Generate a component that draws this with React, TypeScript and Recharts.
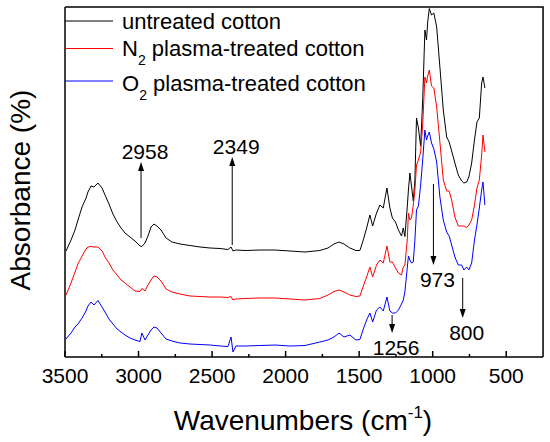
import React from "react";
import { LineChart, Line, XAxis, YAxis, ReferenceLine, Legend } from "recharts";

// FTIR spectra, values (absorbance in arbitrary units)
const wavenumbers = [
  3493, 3459, 3432, 3412, 3384, 3357, 3344, 3323, 3303, 3276,
  3248, 3228, 3201, 3174, 3146, 3119, 3092, 3058, 3024, 2990,
  2977, 2956, 2936, 2915, 2895, 2875, 2847, 2813, 2773, 2718,
  2650, 2582, 2514, 2446, 2392, 2371, 2358, 2338, 2276, 2174,
  2072, 1970, 1868, 1767, 1712, 1671, 1637, 1603, 1563, 1522,
  1495, 1474, 1449, 1427, 1408, 1382, 1359, 1336, 1311, 1291,
  1274, 1253, 1233, 1212, 1200, 1189, 1173, 1165, 1155, 1144,
  1132, 1121, 1110, 1097, 1082, 1068, 1053, 1042, 1034, 1023,
  1008, 992, 973, 951, 928, 905, 888, 871, 849, 826,
  803, 788, 769, 754, 735, 716, 699, 683, 667, 658,
  645,
];

const untreated = [
  106, 117, 127, 137, 150, 159, 165, 171, 170, 174,
  169, 162, 153, 143, 135, 129, 124, 120, 116, 111,
  110.5, 114, 121, 130, 133, 131, 127, 119, 115, 113,
  111.5, 110, 109, 108.5, 107.5, 110, 106, 107, 106.5, 107,
  107, 106, 105, 106.5, 109, 113, 115, 113, 109, 106.5,
  106.5, 116, 129, 142, 131, 144, 152, 149, 169, 149,
  139, 135, 127, 121, 129, 120.5, 150, 167, 184, 171,
  156, 177, 239, 229, 211, 257, 327, 317, 335, 348.5,
  342, 344, 330, 290, 247, 220, 215, 206, 194, 182,
  176, 174, 175, 180, 194, 217, 235, 239, 274, 280,
  269,
];

const n2Treated = [
  62, 74, 85, 93, 101, 108, 110, 110.5, 110, 110,
  106, 100, 94, 87, 82, 77, 74, 70, 66, 65.5,
  68.5, 66, 72, 77, 81, 80, 76, 68, 65, 63,
  61, 60.5, 60, 60, 59.5, 60.5, 57, 58, 58.5, 59,
  59, 58, 57, 58.5, 62, 65.5, 67, 65, 62, 60.5,
  61, 70, 80, 90, 80, 92, 97, 94, 111, 95,
  95, 89, 84, 82, 90, 92, 117, 144, 137, 139,
  152, 167, 192, 197, 205, 232, 280, 274, 281, 287,
  271, 269, 250, 215, 177, 166, 166, 157, 140, 131,
  131, 131, 129.5, 132, 137, 152, 169, 177, 202, 222,
  205,
];

const o2Treated = [
  18, 24, 30, 33, 39, 46, 51, 55, 52, 56.5,
  50, 45, 38, 33, 28, 25, 22, 19, 17, 15.5,
  24, 17, 22, 27, 30, 29, 24, 18, 16, 14,
  13, 12.5, 12, 11, 10.5, 20, 5, 11, 11, 11.5,
  12, 11, 11.5, 15, 17, 20, 24, 20, 22, 17,
  17.5, 27, 37, 44, 35, 47, 50, 46, 60, 46,
  44, 44, 47, 53, 57, 65, 89, 101, 97, 94,
  95, 117, 147, 151, 172, 197, 227, 217, 221, 225,
  214, 208, 195, 160, 137, 125, 121, 112, 100, 92,
  92, 87, 90, 87, 94, 117, 132, 149, 167, 175,
  152,
];

const seriesNames = ["untreated cotton", "N2 plasma-treated cotton", "O2 plasma-treated cotton"];
const seriesColors = ["#000000", "#ff0000", "#0000ff"];

const xTicks = [3500, 3250, 3000, 2750, 2500, 2250, 2000, 1750, 1500, 1250, 1000, 750, 500];
const xDomain = [250, 3500];
const yDomain = [0, 350];

// peak markers: label, wavenumber of the arrow, arrow tail and tip (absorbance units)
const peakLabels = ["2958", "2349", "1256", "973", "800"];
const peakPositions = [2983, 2363, 1276, 995, 796];
const arrowTails = [119, 112, 42, 173, 79];
const arrowTips = [195, 200, 24, 92, 39];

const data = wavenumbers.map((wn, i) => ({
  wn,
  untreated: untreated[i],
  n2: n2Treated[i],
  o2: o2Treated[i],
}));

const WaveTick = (props: any) => {
  const { x, y, payload } = props;
  const major = payload.value % 500 === 0;
  return (
    <g>
      <line x1={x} y1={y} x2={x} y2={y - (major ? 6 : 3)} stroke="#000" strokeWidth={1.5} />
      {major && (
        <text x={x} y={y + 25.5} textAnchor="middle" fontSize={21} fill="#000">
          {payload.value}
        </text>
      )}
    </g>
  );
};

const PeakArrow = (props: any) => {
  const { x1, y1, x2, y2, text } = props;
  const dir = y2 < y1 ? -1 : 1;
  const base = y2 - dir * 9;
  return (
    <g>
      <line x1={x1} y1={y1} x2={x2} y2={base} stroke="#000" strokeWidth={1} />
      <polygon points={`${x2},${y2} ${x2 - 3},${base} ${x2 + 3},${base}`} fill="#000" />
      <text
        x={x2 + 4}
        y={y2 + (dir < 0 ? -11 : 14) + 7.5}
        textAnchor="middle"
        fontSize={21}
        fill="#000"
      >
        {text}
      </text>
    </g>
  );
};

// top and right edges of the box; the segment spans the plot diagonally
const BoxFrame = (props: any) => {
  const { x1, y1, x2, y2 } = props;
  return (
    <path
      d={`M${Math.min(x1, x2)},${Math.min(y1, y2) - 1} H${Math.max(x1, x2) + 0.2} V${Math.max(y1, y2) + 1}`}
      fill="none"
      stroke="#000"
      strokeWidth={1.5}
    />
  );
};

const LegendBox = (props: any) => {
  const lineY = [21, 48.5, 81];
  const textY = [28.5, 56, 91];
  const items = [...(props.payload || [])].sort(
    (a: any, b: any) => seriesNames.indexOf(a.value) - seriesNames.indexOf(b.value)
  );
  return (
    <svg width={420} height={100} style={{ overflow: "visible" }}>
      {items.map((item: any, i: number) => {
        const m = /^([A-Z])2 (.*)$/.exec(item.value);
        return (
          <g key={item.value}>
            <line x1={0} x2={48} y1={lineY[i]} y2={lineY[i]} stroke={item.color} strokeWidth={1} />
            <text x={57} y={textY[i]} fontSize={22} fill="#000">
              {m ? (
                <>
                  {m[1]}
                  <tspan fontSize={14} dy={9}>2</tspan>
                  <tspan dy={-9}>{" " + m[2]}</tspan>
                </>
              ) : (
                item.value
              )}
            </text>
          </g>
        );
      })}
    </svg>
  );
};

const XTitle = (props: any) => {
  const vb = props.viewBox;
  return (
    <text x={vb.x + vb.width / 2 - 1} y={vb.y + 72.5} textAnchor="middle" fontSize={28} fill="#000">
      Wavenumbers (cm
      <tspan fontSize={17} dy={-12}>-1</tspan>
      <tspan dy={12}>)</tspan>
    </text>
  );
};

const YTitle = (props: any) => {
  const vb = props.viewBox;
  const cx = vb.x + 30;
  const cy = vb.y + 183;
  return (
    <text x={cx} y={cy} transform={`rotate(-90, ${cx}, ${cy})`} textAnchor="middle" fontSize={28} fill="#000">
      Absorbance (%)
    </text>
  );
};

export default function App() {
  return (
    <div style={{ position: "absolute", left: 0, top: 0, width: 550, height: 442, fontFamily: "'Liberation Sans', Arial, sans-serif" }}>
      <LineChart width={550} height={442} data={data} margin={{ top: 7, right: 7, bottom: 0, left: 0 }}>
        <XAxis
          dataKey="wn"
          type="number"
          domain={xDomain}
          reversed
          ticks={xTicks}
          interval={0}
          height={85}
          tickSize={0}
          tickMargin={0}
          tickLine={false}
          tick={<WaveTick />}
          axisLine={{ stroke: "#000", strokeWidth: 1.5 }}
          label={XTitle}
        />
        <YAxis
          type="number"
          domain={yDomain}
          width={65}
          tick={false}
          tickLine={false}
          axisLine={{ stroke: "#000", strokeWidth: 1.5 }}
          label={YTitle}
        />
        <Legend
          layout="vertical"
          align="center"
          verticalAlign="middle"
          content={<LegendBox />}
          wrapperStyle={{ left: 65, top: 0, width: 420, height: 100 }}
        />
        <Line dataKey="untreated" name={seriesNames[0]} stroke={seriesColors[0]} strokeWidth={1} dot={false} type="linear" isAnimationActive={false} />
        <Line dataKey="n2" name={seriesNames[1]} stroke={seriesColors[1]} strokeWidth={1} dot={false} type="linear" isAnimationActive={false} />
        <Line dataKey="o2" name={seriesNames[2]} stroke={seriesColors[2]} strokeWidth={1} dot={false} type="linear" isAnimationActive={false} />
        <ReferenceLine
          segment={[
            { x: 3499, y: 349 },
            { x: 251, y: 1 },
          ]}
          shape={(p: any) => <BoxFrame {...p} />}
        />
        {peakLabels.map((label, i) => (
          <ReferenceLine
            key={label}
            segment={[
              { x: peakPositions[i], y: arrowTails[i] },
              { x: peakPositions[i], y: arrowTips[i] },
            ]}
            shape={(p: any) => <PeakArrow {...p} text={label} />}
          />
        ))}
      </LineChart>
    </div>
  );
}
